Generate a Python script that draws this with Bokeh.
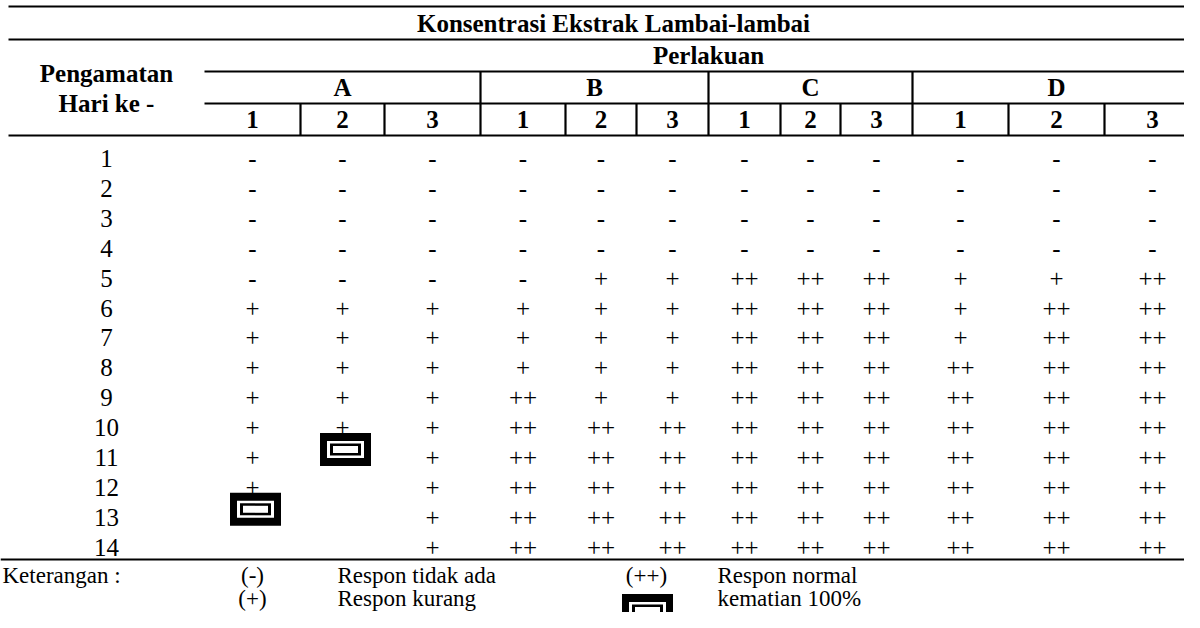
from bokeh.plotting import figure
from bokeh.models import Range1d, ColumnDataSource
from bokeh.core.properties import value
from bokeh.embed import file_html
from bokeh.resources import INLINE

# ---------------- data ----------------
title_top = "Konsentrasi Ekstrak Lambai-lambai"
title_treat = "Perlakuan"
row_head = ["Pengamatan", "Hari ke -"]
groups = ["A", "B", "C", "D"]
subs = ["1", "2", "3"]
days = ["1", "2", "3", "4", "5", "6", "7", "8", "9", "10", "11", "12", "13", "14"]
# "X" = kematian 100% (black box), "" = no larva left
A1 = ["-", "-", "-", "-", "-", "+", "+", "+", "+", "+", "+", "+", "X", ""]
A2 = ["-", "-", "-", "-", "-", "+", "+", "+", "+", "+", "X", "", "", ""]
A3 = ["-", "-", "-", "-", "-", "+", "+", "+", "+", "+", "+", "+", "+", "+"]
B1 = ["-", "-", "-", "-", "-", "+", "+", "+", "++", "++", "++", "++", "++", "++"]
B2 = ["-", "-", "-", "-", "+", "+", "+", "+", "+", "++", "++", "++", "++", "++"]
B3 = ["-", "-", "-", "-", "+", "+", "+", "+", "+", "++", "++", "++", "++", "++"]
C1 = ["-", "-", "-", "-", "++", "++", "++", "++", "++", "++", "++", "++", "++", "++"]
C2 = ["-", "-", "-", "-", "++", "++", "++", "++", "++", "++", "++", "++", "++", "++"]
C3 = ["-", "-", "-", "-", "++", "++", "++", "++", "++", "++", "++", "++", "++", "++"]
D1 = ["-", "-", "-", "-", "+", "+", "+", "++", "++", "++", "++", "++", "++", "++"]
D2 = ["-", "-", "-", "-", "+", "++", "++", "++", "++", "++", "++", "++", "++", "++"]
D3 = ["-", "-", "-", "-", "++", "++", "++", "++", "++", "++", "++", "++", "++", "++"]
columns = [A1, A2, A3, B1, B2, B3, C1, C2, C3, D1, D2, D3]
legend_label = "Keterangan :"
legend_syms = ["(-)", "(+)", "(++)", "X"]
legend_texts = ["Respon tidak ada", "Respon kurang", "Respon normal", "kematian 100%"]

# ---------------- layout (pixels) ----------------
FONT = "Liberation Serif"
FS = "25px"
W, H = 1184, 612
left = 8
data_left = 204
col_w = [96, 84, 96, 85, 71, 72, 72, 60, 72, 96, 96, 96]
edges = [data_left]
for w in col_w:
    edges.append(edges[-1] + w)
centers = [(edges[i] + edges[i + 1]) / 2 for i in range(len(col_w))]
group_edges = [edges[0], edges[3], edges[6], edges[9], edges[12]]
group_centers = [(group_edges[i] + group_edges[i + 1]) / 2 for i in range(4)]
day_x = 106
y_top, y_t1, y_t2, y_t3, y_t4, y_bot = 6, 39, 71, 103, 135, 559
row0, row_h = 158, 29.9
row_y = [row0 + i * row_h for i in range(len(days))]
leg_y1, leg_y2 = 575, 598

p = figure(width=W, height=H, x_range=Range1d(0, W), y_range=Range1d(H, 0),
           output_backend="svg", toolbar_location=None, min_border=0,
           x_axis_location=None, y_axis_location=None)
p.xgrid.visible = False
p.ygrid.visible = False
p.outline_line_color = None
p.background_fill_color = "white"
p.border_fill_color = "white"

# horizontal rules
hx0 = [left, left, data_left, data_left, left, 0]
hy = [y_top, y_t1, y_t2, y_t3, y_t4, y_bot]
p.segment(x0=hx0, y0=hy, x1=[W + 20] * len(hy), y1=hy, line_color="black", line_width=2.2)

# vertical rules
vx, vy0, vy1 = [], [], []
for g in group_edges[1:-1]:
    vx.append(g); vy0.append(y_t2); vy1.append(y_t4)
for i, e in enumerate(edges[1:-1], start=1):
    if i % 3 != 0:
        vx.append(e); vy0.append(y_t3); vy1.append(y_t4)
p.segment(x0=vx, y0=vy0, x1=vx, y1=vy1, line_color="black", line_width=2.2)


def txt(xs, ys, texts, bold=False, align="center", size=FS):
    src = ColumnDataSource(dict(x=xs, y=ys, t=texts))
    p.text(x="x", y="y", text="t", source=src, text_font=value(FONT), text_font_size=size,
           text_font_style="bold" if bold else "normal", text_align=align,
           text_baseline="middle", text_color="black")


# header texts
txt([613], [23], [title_top], bold=True)
txt([708], [55], [title_treat], bold=True)
txt([day_x, day_x], [73, 103], row_head, bold=True)
txt(group_centers, [87] * 4, groups, bold=True)
txt(centers, [119] * len(centers), subs * 4, bold=True)

# body
txt([day_x] * len(days), row_y, days)
bx, by, bt = [], [], []
box_x, box_y = [], []
for ci, col in enumerate(columns):
    for ri, v in enumerate(col):
        if v == "X":
            box_x.append(centers[ci] + 3)
            box_y.append(row_y[ri] - 8)
        elif v:
            bx.append(centers[ci]); by.append(row_y[ri]); bt.append(v)
txt(bx, by, bt)

# legend
LS = "23px"
txt([2], [leg_y1], [legend_label], align="left", size=LS)
txt([centers[0], centers[0], 646], [leg_y1, leg_y2, leg_y1], legend_syms[:3], size=LS)
txt([337, 337, 717, 717], [leg_y1, leg_y2, leg_y1, leg_y2], legend_texts, align="left", size=LS)
box_x.append(647)
box_y.append(leg_y2 + 12)


def death_box(xs, ys):
    layers = [(51, 33, "black"), (37, 17, "white"), (31, 12, "black"), (25, 7, "white")]
    for w, h, c in layers:
        p.rect(x=xs, y=ys, width=w, height=h, fill_color=c, line_color=None)


death_box(box_x, box_y)

open("out.html", "w").write(file_html(p, INLINE))
